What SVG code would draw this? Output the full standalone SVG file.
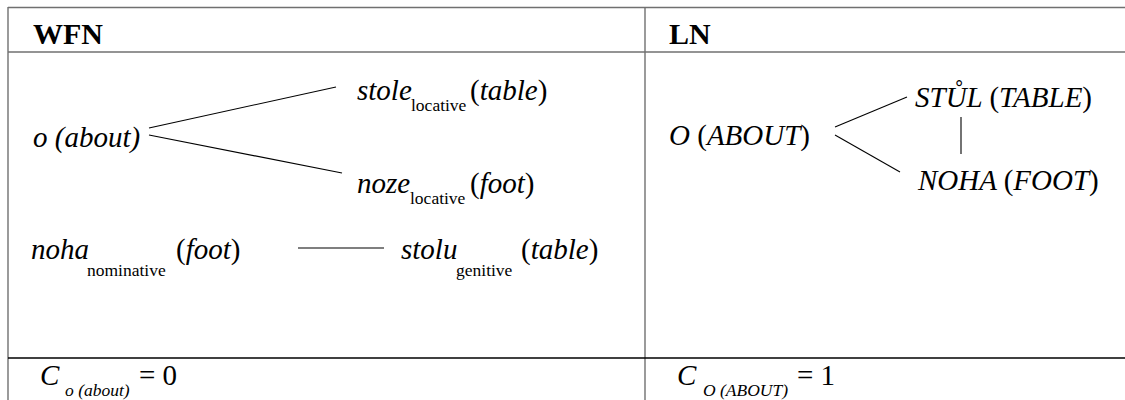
<svg xmlns="http://www.w3.org/2000/svg" width="1125" height="400" viewBox="0 0 1125 400">
<style>
text{font-family:"Liberation Serif","Times New Roman",serif;fill:#000}
.h{font-size:30px;font-weight:bold}
.m{font-size:29px;font-style:italic}
.r{font-style:normal}
.s{font-size:17.5px;font-style:normal}
.si{font-size:17.5px;font-style:italic}
.g{stroke:#707070;stroke-width:1.4;fill:none}
.k{stroke:#000;stroke-width:1.6;fill:none}
.c{stroke:#000;stroke-width:1.1;fill:none}
</style>
<rect x="0" y="0" width="1125" height="400" fill="#fff"/>
<g id="table">
<line class="g" x1="8" y1="7.5" x2="1125" y2="7.5"/>
<line class="g" x1="8" y1="52" x2="1125" y2="52"/>
<line class="g" x1="8" y1="7" x2="8" y2="400"/>
<line class="g" x1="645" y1="7" x2="645" y2="400"/>
<line class="k" x1="8" y1="358" x2="1125" y2="358"/>
</g>
<g id="headers">
<text class="h" x="33" y="44">WFN</text>
<text class="h" x="669" y="44">LN</text>
</g>
<g id="connectors">
<line class="c" x1="149" y1="128" x2="336" y2="87"/>
<line class="c" x1="149" y1="135" x2="342" y2="173"/>
<line class="c" x1="298" y1="248" x2="384" y2="248"/>
<line class="c" x1="835" y1="127" x2="907" y2="97"/>
<line class="c" x1="835" y1="135" x2="900" y2="172"/>
<line class="c" x1="961" y1="117" x2="961" y2="154"/>
</g>
<g id="wfn-o-about"><text class="m" x="33" y="147">o (about)</text></g>
<g id="wfn-stole"><text class="m" x="357" y="100">stole<tspan class="s" x="411" y="111">locative</tspan><tspan class="r" x="470" y="100">(</tspan>table<tspan class="r">)</tspan></text></g>
<g id="wfn-noze"><text class="m" x="357" y="193">noze<tspan class="s" x="410" y="204">locative</tspan><tspan class="r" x="470" y="193">(</tspan>foot<tspan class="r">)</tspan></text></g>
<g id="wfn-noha"><text class="m" x="31" y="259">noha<tspan class="s" x="87" y="276">nominative</tspan><tspan class="r" x="176" y="259">(</tspan>foot<tspan class="r">)</tspan></text></g>
<g id="wfn-stolu"><text class="m" x="401" y="259">stolu<tspan class="s" x="456" y="276">genitive</tspan><tspan class="r" x="521" y="259">(</tspan>table<tspan class="r">)</tspan></text></g>
<g id="ln-o-about"><text class="m" x="669" y="145">O <tspan class="r">(</tspan>ABOUT<tspan class="r">)</tspan></text></g>
<g id="ln-stul"><text class="m" x="915" y="107">STŮL <tspan class="r">(</tspan>TABLE<tspan class="r">)</tspan></text></g>
<g id="ln-noha"><text class="m" x="918" y="190">NOHA <tspan class="r">(</tspan>FOOT<tspan class="r">)</tspan></text></g>
<g id="wfn-c"><text class="m" x="40" y="385">C<tspan class="si" x="65" y="396">o (about)</tspan><tspan class="r" x="139" y="385">= 0</tspan></text></g>
<g id="ln-c"><text class="m" x="677" y="385">C<tspan class="si" x="703" y="396">O (ABOUT)</tspan><tspan class="r" x="797" y="385">= 1</tspan></text></g>
</svg>
